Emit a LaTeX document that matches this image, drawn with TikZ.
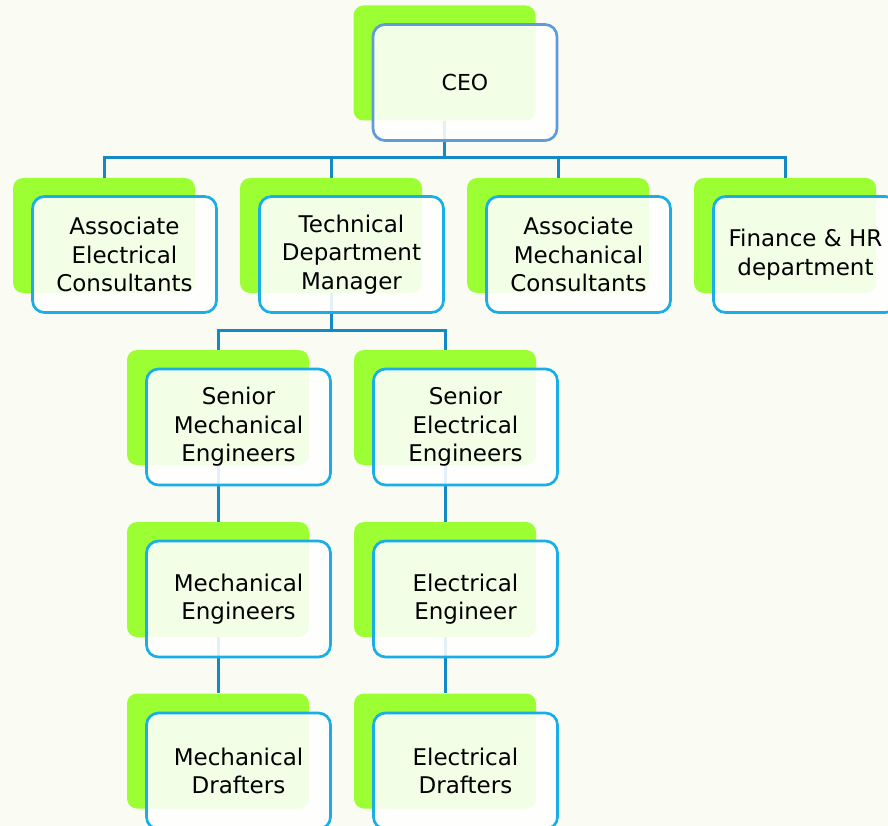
\documentclass[tikz,border=0pt]{standalone}
\usepackage{fontspec}
\setmainfont{DejaVu Sans}
\definecolor{bgc}{HTML}{FAFCF4}
\definecolor{greenc}{HTML}{9BFF33}
\definecolor{linec}{HTML}{1589C6}
\definecolor{borderc}{HTML}{1AAEE6}
\definecolor{ceoborder}{HTML}{5F9BD8}
\tikzset{
  back/.style={rectangle, rounded corners=10pt, fill=greenc, draw=none,
    minimum width=182pt, minimum height=115pt, inner sep=0pt},
  front/.style={rectangle, rounded corners=12pt, fill=white, fill opacity=0.88,
    text opacity=1, draw=borderc, draw opacity=1, line width=2.7pt,
    minimum width=184pt, minimum height=116pt, inner sep=0pt,
    align=center, font=\fontsize{23}{28.5}\selectfont},
  conn/.style={draw=linec, line width=3pt},
}
\begin{document}
\begin{tikzpicture}[x=1pt,y=-1pt]
\useasboundingbox (0,0) rectangle (888,826);
\fill[bgc] (0,0) rectangle (888,826);
% back (green) boxes
\node[back] (gceo) at (444.5,63) {};
\node[back] (g1) at (104,235.5) {};
\node[back] (g2) at (331,235.5) {};
\node[back] (g3) at (558,235.5) {};
\node[back] (g4) at (785,235.5) {};
\node[back] (g5) at (218,407.5) {};
\node[back] (g6) at (445,407.5) {};
\node[back] (g7) at (218,579.5) {};
\node[back] (g8) at (445,579.5) {};
\node[back] (g9) at (218,751) {};
\node[back] (g10) at (445,751) {};
% connectors
\coordinate (busA) at (444.5,158);
\coordinate (busB) at (331,330);
\draw[conn] (gceo.south) -- (busA);
\draw[conn] (g1.north) |- (busA) -| (g4.north);
\draw[conn] (g2.north) -- (g2.north |- busA);
\draw[conn] (g3.north) -- (g3.north |- busA);
\draw[conn] (g2.south) -- (busB);
\draw[conn] (g5.north) |- (busB) -| (g6.north);
\draw[conn] (g5.south) -- (g7.north);
\draw[conn] (g6.south) -- (g8.north);
\draw[conn] (g7.south) -- (g9.north);
\draw[conn] (g8.south) -- (g10.north);
% front boxes
\node[front, draw=ceoborder, font=\fontsize{22}{27}\selectfont] (fceo) at (465,82.5) {CEO};
\node[front] (f1) at (124.5,254.5) {Associate\\Electrical\\Consultants};
\node[front] (f2) at (351.5,254.5) {Technical\\Department\\Manager};
\node[front] (f3) at (578.5,254.5) {Associate\\Mechanical\\Consultants};
\node[front] (f4) at (805.5,254.5) {Finance \& HR\\department};
\node[front] (f5) at (238.5,427) {Senior\\Mechanical\\Engineers};
\node[front] (f6) at (465.5,427) {Senior\\Electrical\\Engineers};
\node[front] (f7) at (238.5,599) {Mechanical\\Engineers};
\node[front] (f8) at (465.5,599) {Electrical\\Engineer};
\node[front] (f9) at (238.5,771) {Mechanical\\Drafters};
\node[front] (f10) at (465.5,771) {Electrical\\Drafters};
\end{tikzpicture}
\end{document}
